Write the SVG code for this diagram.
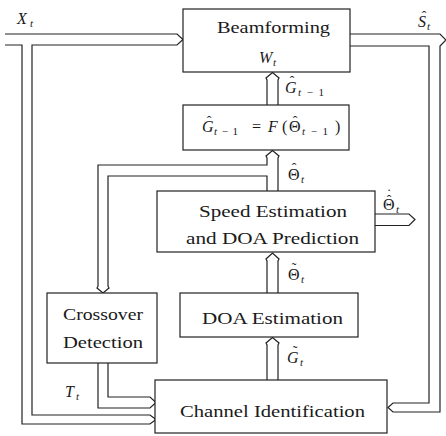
<svg xmlns="http://www.w3.org/2000/svg" width="446" height="436" viewBox="0 0 446 436">
  <style>
    .box { fill: #fff; stroke: #222; stroke-width: 1.2; }
    .flow { fill: none; stroke: #222; stroke-width: 1.2; stroke-linejoin: miter; }
    text { font-family: "Liberation Serif", "DejaVu Serif", serif; fill: #1a1a1a; }
    .lbl { font-size: 16px; }
    .mi { font-size: 16px; font-style: italic; }
    .mu { font-size: 16px; }
    .sub { font-size: 11px; }
    .it { font-style: italic; }
    .acc { font-size: 14px; text-anchor: middle; }
  </style>

  <rect width="446" height="436" fill="#fff"/>

  <!-- double-line (hollow) signal paths -->
  <g id="connectors" font-family="Liberation Serif, DejaVu Serif, serif">
    <!-- X_t: into Beamforming, branching down into Channel Identification -->
    <path class="flow" d="M5,34 H177 L183,39.5 L177,45 H32 V415 H150 L156,419.5 L150,424 H22 V45 H5"/>
    <!-- S_t: out to the right, branching down into Channel Identification -->
    <path class="flow" d="M350,34 H440 L446,40 L440,46 V412 H393 L388,407.5 L393,403 H429 V46 H350"/>
    <!-- G_{t-1} into Beamforming -->
    <path class="flow" d="M267,105 V80 L266,78 L272.5,72.5 L279,78 L278,80 V105"/>
    <!-- Theta_t up to F(), branching to Crossover Detection -->
    <path class="flow" d="M278,191 V158 L279,156 L272.5,150.5 L266,156 L267,158 V165 H98 V286 L97,288 L103,293 L109,288 L108,286 V176 H267 V191"/>
    <!-- Theta_t dot output -->
    <path class="flow" d="M375,214 H409 L415,219.5 L409,225.5 H375"/>
    <!-- tilde Theta_t into Speed Estimation -->
    <path class="flow" d="M267,293 V261 L266,259 L272.5,253 L279,259 L278,261 V293"/>
    <!-- tilde G_t into DOA Estimation -->
    <path class="flow" d="M267,380 V345 L266,343 L272.5,337.5 L279,343 L278,345 V380"/>
    <!-- T_t into Channel Identification -->
    <path class="flow" d="M98,363 V408 H150 L156,402.5 L150,397 H108 V363"/>

    <!-- signal labels -->
    <g id="lbl-x">
      <text class="mi" x="17" y="24">X</text>
      <text class="sub it" x="30" y="27">t</text>
    </g>
    <g id="lbl-s">
      <text class="mi" x="418" y="27">S</text>
      <text class="acc" x="424" y="21">ˆ</text>
      <text class="sub it" x="427" y="30">t</text>
    </g>
    <g id="lbl-g1">
      <text class="mi" x="285" y="93">G</text>
      <text class="acc" x="292" y="86">ˆ</text>
      <text class="sub" x="298" y="96" textLength="26" lengthAdjust="spacing"><tspan class="it">t</tspan>−1</text>
    </g>
    <g id="lbl-theta">
      <text class="mu" x="288" y="180">Θ</text>
      <text class="acc" x="294" y="173">ˆ</text>
      <text class="sub it" x="301" y="183">t</text>
    </g>
    <g id="lbl-thetadot">
      <text class="mu" x="383" y="210">Θ</text>
      <text class="acc" x="389" y="205">ˆ</text>
      <text class="acc" x="389" y="199">˙</text>
      <text class="sub it" x="396" y="213">t</text>
    </g>
    <g id="lbl-thetatilde">
      <text class="mu" x="288" y="280">Θ</text>
      <text class="acc" x="294" y="273">˜</text>
      <text class="sub it" x="301" y="283">t</text>
    </g>
    <g id="lbl-gtilde">
      <text class="mi" x="287" y="363">G</text>
      <text class="acc" x="295" y="356">˜</text>
      <text class="sub it" x="300" y="366">t</text>
    </g>
    <g id="lbl-t">
      <text class="mi" x="65" y="397">T</text>
      <text class="sub it" x="76" y="400">t</text>
    </g>
  </g>

  <g id="beamforming">
    <rect class="box" x="183" y="9" width="167" height="63"/>
    <text class="lbl" x="217" y="33" textLength="113" lengthAdjust="spacingAndGlyphs">Beamforming</text>
    <text class="mi" x="259" y="63">W</text>
    <text class="sub it" x="273" y="66">t</text>
  </g>

  <g id="channel-map">
    <rect class="box" x="183" y="105" width="166" height="45"/>
    <text class="mi" x="202" y="132">G</text>
    <text class="acc" x="209" y="126">ˆ</text>
    <text class="sub" x="214" y="135" textLength="24" lengthAdjust="spacing"><tspan class="it">t</tspan>−1</text>
    <text class="mu" x="256.5" y="132" text-anchor="middle">=</text>
    <text class="mi" x="268" y="132">F</text>
    <text class="mu" x="282" y="132">(</text>
    <text class="mu" x="289" y="132">Θ</text>
    <text class="acc" x="295" y="126">ˆ</text>
    <text class="sub" x="302" y="135" textLength="26" lengthAdjust="spacing"><tspan class="it">t</tspan>−1</text>
    <text class="mu" x="335" y="132">)</text>
  </g>

  <g id="speed-estimation">
    <rect class="box" x="157" y="191" width="218" height="61"/>
    <text class="lbl" x="199" y="217" textLength="148" lengthAdjust="spacingAndGlyphs">Speed Estimation</text>
    <text class="lbl" x="186" y="244" textLength="173" lengthAdjust="spacingAndGlyphs">and DOA Prediction</text>
  </g>

  <g id="crossover-detection">
    <rect class="box" x="47" y="293" width="110" height="70"/>
    <text class="lbl" x="63" y="320" textLength="80" lengthAdjust="spacingAndGlyphs">Crossover</text>
    <text class="lbl" x="63" y="348" textLength="80" lengthAdjust="spacingAndGlyphs">Detection</text>
  </g>

  <g id="doa-estimation">
    <rect class="box" x="180" y="293" width="178" height="44"/>
    <text class="lbl" x="202" y="324" textLength="141" lengthAdjust="spacingAndGlyphs">DOA Estimation</text>
  </g>

  <g id="channel-identification">
    <rect class="box" x="155" y="380" width="232" height="53"/>
    <text class="lbl" x="180" y="417" textLength="185" lengthAdjust="spacingAndGlyphs">Channel Identification</text>
  </g>
</svg>
